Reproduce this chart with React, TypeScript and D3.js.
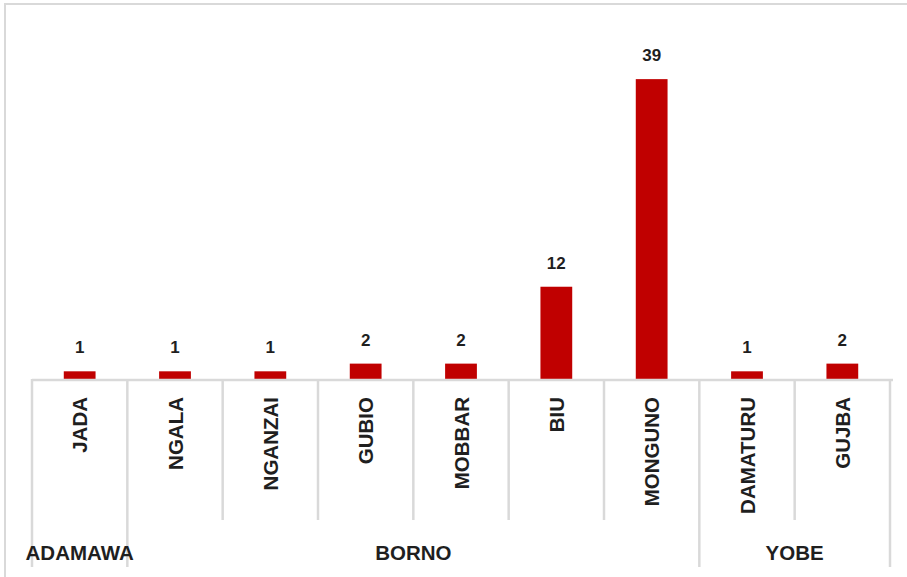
import React from "react";
import * as d3 from "d3";

const lgas = ["JADA", "NGALA", "NGANZAI", "GUBIO", "MOBBAR", "BIU", "MONGUNO", "DAMATURU", "GUJBA"];
const lgaStates = ["ADAMAWA", "BORNO", "BORNO", "BORNO", "BORNO", "BORNO", "BORNO", "YOBE", "YOBE"];
const states = ["ADAMAWA", "BORNO", "YOBE"];
const values = [1, 1, 1, 2, 2, 12, 39, 1, 2];
const yMax = 45;

const W = 907;
const H = 577;
const FONT = "'Liberation Sans', Arial, sans-serif";
const GRID = "#d9d9d9";
const TEXT = "#1f1f1f";

export default function App() {
  const x = d3.scaleBand<string>().domain(lgas).range([32, 890]).paddingInner(0).paddingOuter(0);
  const y = d3.scaleLinear().domain([0, yMax]).range([379, 33]);
  const bw = x.bandwidth();
  const baseY = y(0);

  const bounds: { x: number; group: boolean }[] = [];
  lgas.forEach((c, i) => {
    const isGroup = i === 0 || lgaStates[i] !== lgaStates[i - 1];
    bounds.push({ x: x(c)!, group: isGroup });
  });
  bounds.push({ x: x(lgas[lgas.length - 1])! + bw, group: true });

  const groups = states.map((s) => {
    const idx = lgaStates.map((st, i) => (st === s ? i : -1)).filter((i) => i >= 0);
    const x0 = x(lgas[idx[0]])!;
    const x1 = x(lgas[idx[idx.length - 1]])! + bw;
    return { name: s, cx: (x0 + x1) / 2 };
  });

  return (
    <svg
      width={W}
      height={H}
      style={{ position: "absolute", left: 0, top: 0, background: "#fff" }}
      fontFamily={FONT}
    >
      <line x1={4} x2={W} y1={4} y2={4} stroke={GRID} strokeWidth={2} />
      <line x1={5} x2={5} y1={4} y2={H} stroke={GRID} strokeWidth={2} />

      {lgas.map((c, i) => (
        <rect
          key={c}
          x={x(c)! + bw / 3}
          y={y(values[i])}
          width={bw / 3}
          height={baseY - y(values[i])}
          fill="#C00000"
        />
      ))}

      {lgas.map((c, i) => (
        <text
          key={c + "v"}
          x={x(c)! + bw / 2}
          y={y(values[i]) - 18}
          textAnchor="middle"
          fontSize={17}
          fontWeight="bold"
          fill={TEXT}
        >
          {values[i]}
        </text>
      ))}

      <line x1={32} x2={893} y1={baseY + 1} y2={baseY + 1} stroke={GRID} strokeWidth={2.5} />

      {bounds.map((b, i) => (
        <line
          key={"t" + i}
          x1={b.x}
          x2={b.x}
          y1={baseY}
          y2={b.group ? 567 : 520}
          stroke={GRID}
          strokeWidth={2.5}
        />
      ))}

      {lgas.map((c) => (
        <text
          key={c + "l"}
          transform={`translate(${x(c)! + bw / 2},397) rotate(-90)`}
          textAnchor="end"
          dominantBaseline="central"
          fontSize={20.5}
          fontWeight="bold"
          fill={TEXT}
        >
          {c}
        </text>
      ))}

      {groups.map((g) => (
        <text
          key={g.name}
          x={g.cx}
          y={552}
          textAnchor="middle"
          dominantBaseline="central"
          fontSize={20.5}
          fontWeight="bold"
          fill={TEXT}
        >
          {g.name}
        </text>
      ))}
    </svg>
  );
}
